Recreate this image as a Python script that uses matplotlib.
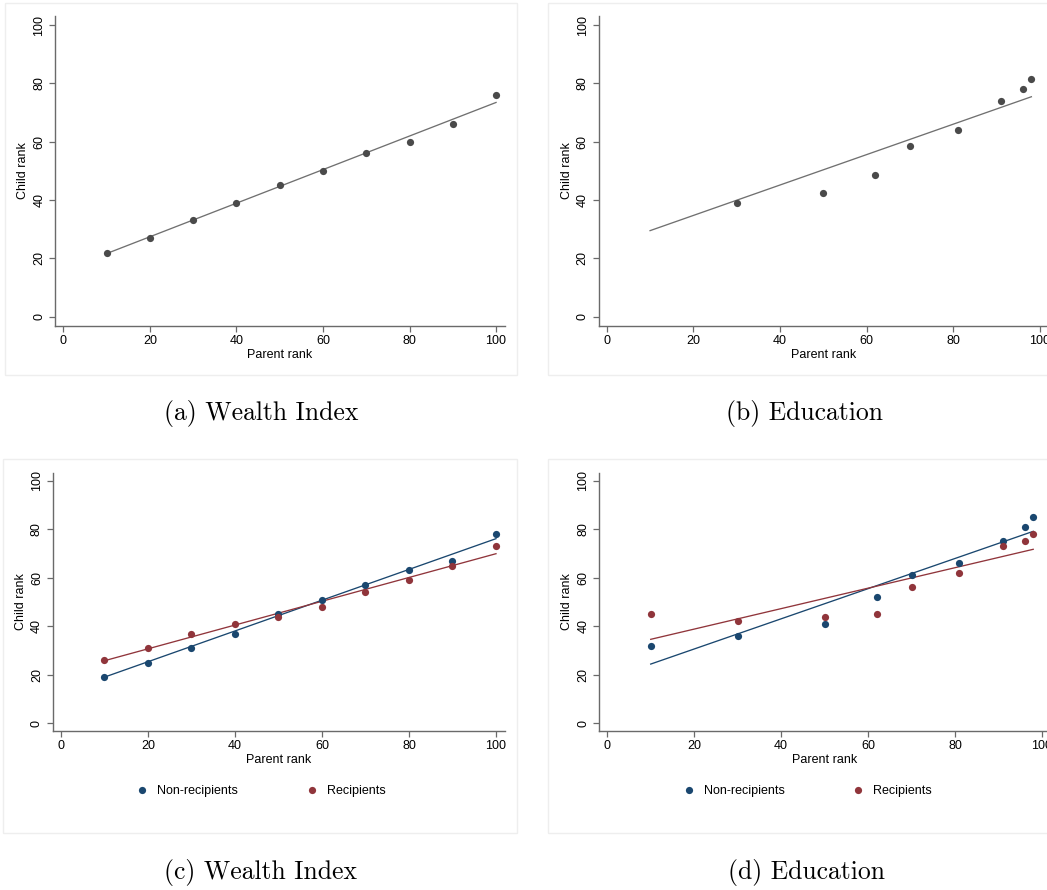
import numpy as np
import matplotlib
matplotlib.use("Agg")
import matplotlib.pyplot as plt
from matplotlib.patches import Rectangle
from matplotlib.lines import Line2D

plt.rcParams["font.family"] = ["Liberation Sans", "DejaVu Sans"]

# binned scatter data: parent rank vs child rank
wealth_x = [10, 20, 30, 40, 50, 60, 70, 80, 90, 100]
wealth_all = [22, 27, 33, 39, 45, 50, 56, 60, 66, 76]
wealth_non = [19, 25, 31, 37, 45, 51, 57, 63, 67, 78]
wealth_rec = [26, 31, 37, 41, 44, 48, 54, 59, 65, 73]

edu_x_all = [30, 50, 62, 70, 81, 91, 96, 98]
edu_all = [39, 42.5, 48.5, 58.5, 64, 74, 78, 81.5]
edu_x = [10, 30, 50, 62, 70, 81, 91, 96, 98]
edu_non = [32, 36, 41, 52, 61, 66, 75, 81, 85]
edu_rec = [45, 42, 44, 45, 56, 62, 73, 75, 78]

# fitted lines (intercept, slope) and x range of the fit
fit_wealth_all = (15.9, 0.5756)
fit_wealth_non = (12.7, 0.634)
fit_wealth_rec = (20.9, 0.490)
fit_edu_all = (24.3, 0.5216)
fit_edu_non = (18.2, 0.6216)
fit_edu_rec = (30.4, 0.4216)
wealth_span = (10, 100)
edu_span = (10, 98)

captions = ["(a) Wealth Index", "(b) Education", "(c) Wealth Index", "(d) Education"]
legend_labels = ["Non-recipients", "Recipients"]

GREY_PT = "#4a4a4a"
GREY_LN = "#707070"
BLUE = "#1a476f"
RED = "#90353b"

W, H = 1047, 890
fig = plt.figure(figsize=(W / 100, H / 100), dpi=100)


def px_axes(left, top, right, bottom):
    return fig.add_axes([left / W, 1 - bottom / H, (right - left) / W, (bottom - top) / H])


def style(ax):
    ax.set_xlim(-1.9, 102)
    ax.set_ylim(-3, 103.2)
    ax.set_xticks([0, 20, 40, 60, 80, 100])
    ax.set_yticks([0, 20, 40, 60, 80, 100])
    for s in ["top", "right"]:
        ax.spines[s].set_visible(False)
    for s in ["left", "bottom"]:
        ax.spines[s].set_color("#6a6a6a")
        ax.spines[s].set_linewidth(1.0)
    ax.tick_params(direction="out", length=4, width=0.9, color="#6a6a6a",
                   labelsize=9, pad=3)
    plt.setp(ax.get_yticklabels(), rotation=90, va="center")
    ax.set_xlabel("Parent rank", fontsize=9, labelpad=1)
    ax.set_ylabel("Child rank", fontsize=9, labelpad=3)
    ax.set_clip_on(False)


def fit_line(ax, fit, span, color):
    xs = np.array(span, dtype=float)
    ax.plot(xs, fit[0] + fit[1] * xs, color=color, lw=0.95, zorder=2)


# faint panel frames
for (l, t, r, b) in [(5, 3, 517, 375), (548, 3, 1052, 375),
                     (3, 459, 517, 833), (548, 459, 1052, 833)]:
    fig.patches.append(Rectangle((l / W, 1 - b / H), (r - l) / W, (b - t) / H,
                                 transform=fig.transFigure, fill=False,
                                 ec="#eeeeee", lw=1.0))

ax_a = px_axes(55.1, 15.7, 504.7, 325.5)
ax_b = px_axes(598.5, 15.7, 1048.7, 325.5)
ax_c = px_axes(52.7, 472.9, 504.7, 730.6)
ax_d = px_axes(599.0, 472.9, 1050.6, 730.6)

fit_line(ax_a, fit_wealth_all, wealth_span, GREY_LN)
ax_a.plot(wealth_x, wealth_all, "o", color=GREY_PT, ms=5.2, mec="none", zorder=3)

fit_line(ax_b, fit_edu_all, edu_span, GREY_LN)
ax_b.plot(edu_x_all, edu_all, "o", color=GREY_PT, ms=5.2, mec="none", zorder=3)

fit_line(ax_c, fit_wealth_non, wealth_span, BLUE)
fit_line(ax_c, fit_wealth_rec, wealth_span, RED)
ax_c.plot(wealth_x, wealth_non, "o", color=BLUE, ms=5.2, mec="none", zorder=3)
ax_c.plot(wealth_x, wealth_rec, "o", color=RED, ms=5.2, mec="none", zorder=3)

fit_line(ax_d, fit_edu_non, edu_span, BLUE)
fit_line(ax_d, fit_edu_rec, edu_span, RED)
ax_d.plot(edu_x, edu_non, "o", color=BLUE, ms=5.2, mec="none", zorder=3)
ax_d.plot(edu_x, edu_rec, "o", color=RED, ms=5.2, mec="none", zorder=3)

for ax in [ax_a, ax_b, ax_c, ax_d]:
    style(ax)

# legends under the bottom panels
handles = [Line2D([], [], ls="none", marker="o", ms=5.2, mfc=BLUE, mec="none"),
           Line2D([], [], ls="none", marker="o", ms=5.2, mfc=RED, mec="none")]
for cx in [261.5, 808.0]:
    fig.legend(handles, legend_labels, loc="center", ncol=2,
               bbox_to_anchor=(cx / W, 1 - 791 / H), frameon=False,
               fontsize=9, handlelength=0.8, handletextpad=0.8,
               columnspacing=5.5, borderpad=0)

# sub-figure captions
for label, (cx, cy) in zip(captions, [(261.5, 413), (804.5, 413),
                                       (260, 872), (806, 872)]):
    fig.text(cx / W, 1 - cy / H, label, ha="center", va="center",
             family="cmr10", fontsize=18.5)

fig.savefig("out.png", dpi=100)
